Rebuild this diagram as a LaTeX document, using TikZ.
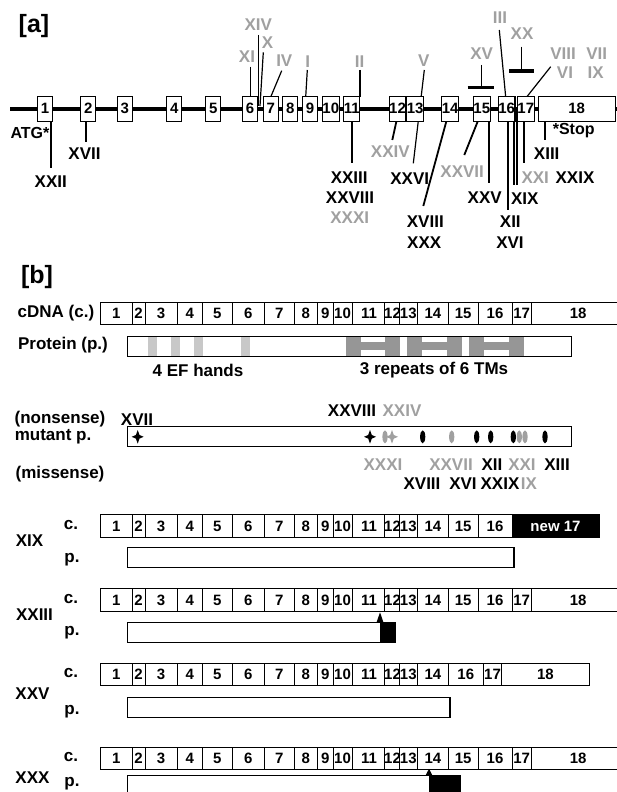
\documentclass[tikz,border=0pt]{standalone}
\usepackage{fontspec}
\setmainfont{Liberation Sans}
\definecolor{mgray}{RGB}{160,160,160}
\definecolor{efgray}{RGB}{200,200,200}
\definecolor{tmgray}{RGB}{150,150,150}
\newcommand\exonrow[3]{%
  \foreach \l/\a/\b in #3{%
    \pgfmathsetmacro\ewd{\b-\a}%
    \pgfmathsetmacro\ecx{(\a+\b)/2}%
    \node[exb, minimum width=\ewd pt] (#1-\l) at (\ecx,#2) {\l};
  }}
\def\fullrow{1/100.5/132, 2/132/145, 3/145/177, 4/177/202.5, 5/202.5/232, 6/232/264.8, 7/264.8/294, 8/294/317.5, 9/317.5/333, 10/333/352, 11/352/386, 12/386/399, 13/399/417.5, 14/417.5/448.3, 15/448.3/478, 16/478/512, 17/512/531.3, 18/531.3/625}
\def\xixrow{1/100.5/132, 2/132/145, 3/145/177, 4/177/202.5, 5/202.5/232, 6/232/264.8, 7/264.8/294, 8/294/317.5, 9/317.5/333, 10/333/352, 11/352/386, 12/386/399, 13/399/417.5, 14/417.5/448.3, 15/448.3/478, 16/478/512}
\def\xxvrow{1/100.5/132, 2/132/145, 3/145/177, 4/177/202.5, 5/202.5/232, 6/232/264.8, 7/264.8/294, 8/294/317.5, 9/317.5/333, 10/333/352, 11/352/386, 12/386/399, 13/399/417.5, 14/417.5/448.3, 16/448.3/483.3, 17/483.3/501.8, 18/501.8/589.1}
\begin{document}
\begin{tikzpicture}[x=1pt,y=-1pt,
  lab/.style={inner sep=0pt, font=\fontsize{17}{17}\selectfont\bfseries},
  glab/.style={lab, text=mgray},
  hd/.style={inner sep=0pt, font=\fontsize{25}{25}\selectfont\bfseries},
  exa/.style={draw, fill=white, line width=1.1pt, minimum width=15pt, minimum height=25pt, inner sep=0pt, font=\fontsize{15}{15}\selectfont\bfseries},
  exb/.style={draw, fill=white, line width=0.9pt, minimum height=22.5pt, inner sep=0pt, font=\fontsize{15}{15}\selectfont\bfseries},
  pbar/.style={draw, fill=white, line width=1pt, minimum height=20pt, inner sep=0pt},
  upline/.style={line width=1.2pt},
  lowline/.style={line width=1.8pt},
  tbar/.style={line width=3.3pt},
  tri/.style={fill=black},
]
\useasboundingbox (0,0) rectangle (617,792);

% ================= [a] =================
\node[hd] (ha) at (34,26) {[a]};
\coordinate (gl0) at (10,108.6);
\coordinate (gl1) at (620,108.6);
\draw[line width=4pt] (gl0) -- (gl1);

% mutation lines (upper)
\foreach \n/\xa/\ya/\xb/\yb in {XIV/258.7/35/258.7/106, X/263.3/52.3/260/106, XI/250.7/66.7/250.7/97, IV/281.7/70.7/270.7/97, I/307.3/70/305.7/97, II/360/70/360/97, V/424.3/70/413.3/163.3, III/499.3/30/505.7/97, VIII/550.7/66.7/526.7/97, XV/481.7/65/481.7/87.3, XX/521.7/46.7/521.7/71}{
  \coordinate (u\n s) at (\xa,\ya);
  \coordinate (u\n e) at (\xb,\yb);
  \draw[upline] (u\n s) -- (u\n e);
}
\coordinate (tb15a) at (467.7,87.3); \coordinate (tb15b) at (494.3,87.3);
\draw[tbar] (tb15a) -- (tb15b);
\coordinate (tb20a) at (509,71); \coordinate (tb20b) at (534.3,71);
\draw[tbar] (tb20a) -- (tb20b);

% mutation lines (lower)
\foreach \n/\xa/\ya/\xb/\yb in {XXII/50.7/120/50.7/168.3, XVII/86/120/86/141.7, XXIII/352.3/120/352.3/163.3, XXIV/396.7/120/392.3/140, XVIII/446.7/120/423.3/206, XXVII/478.3/120/464.3/155, XXV/489.3/110/489.3/182.7, XII/507.7/120/507.7/210, XIXa/514.3/110/514.3/185, XIXb/517.3/110/517.3/185, XXI/524/120/524/163.3, XIII/545/120/545/140}{
  \coordinate (d\n s) at (\xa,\ya);
  \coordinate (d\n e) at (\xb,\yb);
  \draw[lowline] (d\n s) -- (d\n e);
}

% exon boxes
\foreach \l/\x in {1/45, 2/88.3, 3/124.8, 4/174.2, 5/213.2, 6/250, 7/270.8, 8/290.2, 9/310, 10/330.8, 11/351.8, 12/397.5, 13/415.2, 14/450.2, 15/481.8, 16/506.7, 17/525.8}{
  \node[exa] (ea\l) at (\x,108.6) {\l};
}
\node[exa, minimum width=76.7pt] (ea18) at (576.7,108.6) {18};

% labels [a]
\foreach \t/\x/\y in {XIV/258.3/24.2, X/267.5/43, XI/247/56.7, IV/284.3/60.8, I/307.8/61.8, II/359.5/61.8, V/423.8/60.8, XV/481.7/53.7, III/500/17.8, XX/522/33.8, VIII/563/53.8, VI/565/73, VII/596.7/53.8, IX/595.7/73, XXXI/349.7/217.8, XXIV/390.3/151.2, XXVII/462.2/172, XXI/535.2/177.7}{
  \node[glab] (la\t) at (\x,\y) {\t};
}
\foreach \t/\x/\y in {XXII/50.8/181.5, XVII/84.5/153.7, XXIII/349.2/178, XXVIII/350/198, XXVI/409.7/179, XVIII/425.3/221.3, XXX/424.2/243, XXV/484.7/198, XII/510.3/221.3, XVI/510/243, XIX/524.7/198.8, XIII/546.7/153.3, XXIX/575/177.7}{
  \node[lab] (la\t) at (\x,\y) {\t};
}
\node[lab, font=\fontsize{16}{16}\selectfont\bfseries] (atg) at (30,132.5) {ATG*};
\node[lab, font=\fontsize{16}{16}\selectfont\bfseries] (stop) at (573.7,131) {*Stop};

% ================= [b] =================
\node[hd] (hb) at (37,277.5) {[b]};
\node[lab] (tcdna) at (56,313) {cDNA (c.)};
\exonrow{cd}{313.3}{\fullrow}

\node[lab] (tprot) at (63,345) {Protein (p.)};
\node[pbar, minimum width=444.3pt] (prot) at (349.65,346.3) {};
\foreach \a/\b in {147.7/156.7, 171/180, 194/202.7, 240.7/250}{
  \fill[efgray] (\a,336.8) rectangle (\b,355.8);
}
% TM repeats (H shapes)
\foreach \a in {345.6, 407, 469}{
  \fill[tmgray] (\a,336.8) rectangle ++(15,19);
  \fill[tmgray] (\a+15,342.3) rectangle ++(25,7.7);
  \fill[tmgray] (\a+39.6,336.8) rectangle ++(15,19);
}
\node[lab] (tef) at (198,370) {4 EF hands};
\node[lab] (ttm) at (434,370) {3 repeats of 6 TMs};

\node[lab] (tnon) at (60,419) {(nonsense)};
\node[lab] (tmut) at (53,437) {mutant p.};
\node[pbar, minimum width=444.3pt] (mut) at (349.65,436.8) {};
\node[lab] (n17) at (137,419.5) {XVII};
\node[lab] (n28) at (352,411) {XXVIII};
\node[glab] (n24) at (402,411) {XXIV};
\foreach \x/\c in {137.7/black, 370/black, 392/mgray}{
  \fill[\c] (\x,430) -- (\x+1.8,435) -- (\x+6,436.8) -- (\x+1.8,438.6) -- (\x,443.6) -- (\x-1.8,438.6) -- (\x-6,436.8) -- (\x-1.8,435) -- cycle;
}
\foreach \x/\c in {385/mgray, 422.7/black, 451.7/mgray, 476.7/black, 490.7/black, 519.3/mgray, 525/mgray, 513.3/black, 545/black}{
  \fill[\c] (\x,436.8) ellipse [x radius=2.6, y radius=6.5];
}
\node[lab] (tmis) at (60,474) {(missense)};
\foreach \t/\x in {XXXI/383, XXVII/451, XXI/522}{
  \node[glab] (ms\t) at (\x,465) {\t};
}
\foreach \t/\x in {XII/492, XIII/557}{
  \node[lab] (ms\t) at (\x,465) {\t};
}
\foreach \t/\x in {XVIII/422, XVI/463, XXIX/500}{
  \node[lab] (ms\t) at (\x,483.3) {\t};
}
\node[glab] (msIX) at (529,483.3) {IX};

% XIX
\node[lab] (t19) at (29.5,540.7) {XIX};
\node[lab] (c19) at (71,525) {c.};
\node[lab] (p19) at (72,560) {p.};
\exonrow{r19}{526}{\xixrow}
\node[exb, fill=black, text=white, minimum width=87pt] (r19-new) at (555.5,526) {new 17};
\node[pbar, minimum width=386pt] (pb19) at (320,557.8) {};
\draw[line width=2pt] (pb19.north east) -- (pb19.south east);

% XXIII
\node[lab] (t23) at (34.5,615) {XXIII};
\node[lab] (c23) at (71,599) {c.};
\node[lab] (p23) at (72,633) {p.};
\exonrow{r23}{600}{\fullrow}
\node[pbar, minimum width=253.6pt] (pb23) at (253.8,632.5) {};
\node[pbar, fill=black, minimum width=14.9pt] (pb23x) at (388.05,632.5) {};
\coordinate (ar23) at (380,612.3);
\fill[tri] (ar23) -- ++(3.4,10) -- ++(-6.8,0) -- cycle;

% XXV
\node[lab] (t25) at (32.5,694) {XXV};
\node[lab] (c25) at (71,673) {c.};
\node[lab] (p25) at (72,712) {p.};
\exonrow{r25}{674.2}{\xxvrow}
\node[pbar, minimum width=322.8pt] (pb25) at (288.4,707.7) {};
\draw[line width=2pt] (pb25.north east) -- (pb25.south east);

% XXX
\node[lab] (t30) at (32.5,778) {XXX};
\node[lab] (c30) at (71,757) {c.};
\node[lab] (p30) at (72,784) {p.};
\exonrow{r30}{758.3}{\fullrow}
\node[pbar, minimum width=302pt] (pb30) at (278,785) {};
\node[pbar, fill=black, minimum width=31.4pt] (pb30x) at (444.7,785) {};
\coordinate (ar30) at (429,768.8);
\fill[tri] (ar30) -- ++(3.4,6.5) -- ++(-6.8,0) -- cycle;
\end{tikzpicture}
\end{document}
